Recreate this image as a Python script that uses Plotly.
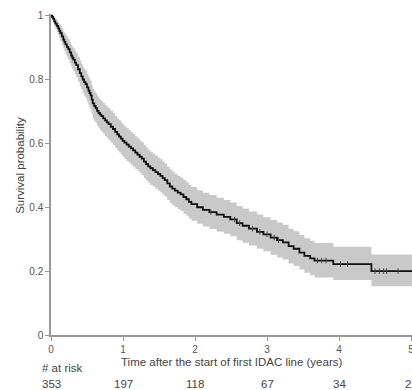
import plotly.graph_objects as go

# Kaplan-Meier estimate (years, survival probability)
time_years = [0, 0.015, 0.03, 0.045, 0.06, 0.08, 0.10, 0.115, 0.13, 0.15, 0.17, 0.185, 0.20,
              0.22, 0.24, 0.26, 0.28, 0.295, 0.31, 0.33, 0.35, 0.375, 0.40, 0.42, 0.44, 0.46,
              0.48, 0.50, 0.52, 0.535, 0.55, 0.565, 0.58, 0.60, 0.62, 0.64, 0.66, 0.68, 0.70,
              0.725, 0.75, 0.775, 0.80, 0.83, 0.86, 0.89, 0.92, 0.945, 0.97, 0.995, 1.02, 1.05,
              1.08, 1.11, 1.14, 1.17, 1.20, 1.23, 1.26, 1.29, 1.32, 1.35, 1.38, 1.415, 1.45,
              1.485, 1.52, 1.55, 1.58, 1.615, 1.65, 1.685, 1.72, 1.76, 1.80, 1.84, 1.88, 1.915,
              1.95, 2.03, 2.11, 2.20, 2.30, 2.40, 2.49, 2.58, 2.66, 2.75, 2.86, 2.95, 3.05, 3.14,
              3.22, 3.30, 3.37, 3.45, 3.52, 3.60, 3.66, 3.92, 4.45, 5.05]
survival = [1.0, 0.995, 0.99, 0.982, 0.975, 0.968, 0.96, 0.952, 0.945, 0.935, 0.925, 0.918,
            0.91, 0.902, 0.895, 0.885, 0.875, 0.868, 0.862, 0.853, 0.845, 0.832, 0.82, 0.81,
            0.80, 0.792, 0.785, 0.775, 0.765, 0.757, 0.75, 0.737, 0.725, 0.717, 0.71, 0.702,
            0.695, 0.69, 0.685, 0.678, 0.672, 0.666, 0.66, 0.652, 0.645, 0.636, 0.628, 0.621,
            0.615, 0.608, 0.602, 0.596, 0.59, 0.584, 0.578, 0.571, 0.565, 0.558, 0.552, 0.543,
            0.535, 0.528, 0.522, 0.516, 0.51, 0.504, 0.498, 0.491, 0.485, 0.475, 0.465, 0.458,
            0.452, 0.446, 0.44, 0.432, 0.425, 0.417, 0.41, 0.40, 0.392, 0.385, 0.377, 0.37,
            0.362, 0.35, 0.342, 0.333, 0.323, 0.315, 0.305, 0.297, 0.29, 0.278, 0.27, 0.258,
            0.248, 0.24, 0.233, 0.222, 0.20, 0.20]
ci_lower = [1.0, 0.989, 0.978, 0.968, 0.958, 0.948, 0.938, 0.929, 0.92, 0.908, 0.897, 0.889,
            0.88, 0.871, 0.863, 0.851, 0.84, 0.833, 0.826, 0.816, 0.807, 0.793, 0.78, 0.769,
            0.758, 0.75, 0.742, 0.731, 0.72, 0.712, 0.705, 0.691, 0.678, 0.67, 0.663, 0.655,
            0.647, 0.641, 0.636, 0.629, 0.622, 0.616, 0.61, 0.602, 0.595, 0.586, 0.578, 0.571,
            0.565, 0.558, 0.551, 0.545, 0.539, 0.533, 0.527, 0.52, 0.514, 0.507, 0.50, 0.491,
            0.483, 0.476, 0.47, 0.464, 0.458, 0.452, 0.446, 0.439, 0.433, 0.423, 0.413, 0.406,
            0.40, 0.394, 0.388, 0.38, 0.373, 0.365, 0.358, 0.348, 0.34, 0.332, 0.324, 0.317,
            0.309, 0.297, 0.289, 0.28, 0.27, 0.262, 0.251, 0.243, 0.236, 0.224, 0.216, 0.205,
            0.195, 0.187, 0.18, 0.172, 0.153, 0.153]
ci_upper = [1.0, 1.0, 1.0, 0.995, 0.99, 0.985, 0.98, 0.974, 0.968, 0.96, 0.952, 0.946, 0.94,
            0.933, 0.927, 0.917, 0.908, 0.902, 0.897, 0.89, 0.882, 0.871, 0.86, 0.85, 0.84,
            0.833, 0.827, 0.817, 0.808, 0.801, 0.795, 0.782, 0.77, 0.763, 0.757, 0.749, 0.742,
            0.737, 0.733, 0.726, 0.72, 0.714, 0.709, 0.702, 0.695, 0.686, 0.678, 0.672, 0.666,
            0.659, 0.653, 0.647, 0.641, 0.635, 0.629, 0.622, 0.616, 0.609, 0.603, 0.595, 0.587,
            0.58, 0.574, 0.568, 0.562, 0.556, 0.55, 0.543, 0.537, 0.527, 0.518, 0.511, 0.505,
            0.498, 0.492, 0.485, 0.478, 0.47, 0.463, 0.453, 0.445, 0.438, 0.43, 0.423, 0.415,
            0.404, 0.396, 0.387, 0.377, 0.369, 0.36, 0.352, 0.345, 0.333, 0.325, 0.313, 0.303,
            0.295, 0.288, 0.276, 0.252, 0.252]

# censoring marks (years)
censor_times = [2.22, 2.55, 2.62, 2.80, 2.90, 3.00, 3.10, 3.16, 3.70, 3.76, 3.82, 4.02, 4.12,
                4.50, 4.56, 4.62, 4.66, 4.82]

# number at risk
risk_times = [0, 1, 2, 3, 4, 5]
risk_counts = ["353", "197", "118", "67", "34", "21"]

x_ticks = [0, 1, 2, 3, 4, 5]
y_ticks = [0, 0.2, 0.4, 0.6, 0.8, 1]
y_ticklabels = ["0", "0.2", "0.4", "0.6", "0.8", "1"]


def step_value(t):
    v = survival[0]
    for ti, si in zip(time_years, survival):
        if ti <= t:
            v = si
    return v


censor_y = [step_value(t) for t in censor_times]

fig = go.Figure()
fig.add_trace(go.Scatter(x=time_years, y=ci_lower, mode="lines", line=dict(width=0, shape="hv"),
                         hoverinfo="skip", showlegend=False))
fig.add_trace(go.Scatter(x=time_years, y=ci_upper, mode="lines", line=dict(width=0, shape="hv"),
                         fill="tonexty", fillcolor="#c9c9c9", hoverinfo="skip", showlegend=False))
fig.add_trace(go.Scatter(x=time_years, y=survival, mode="lines",
                         line=dict(color="#111111", width=1.8, shape="hv"), showlegend=False))
fig.add_trace(go.Scatter(x=censor_times, y=censor_y, mode="markers",
                         marker=dict(symbol="line-ns", size=4, line=dict(width=1, color="#444444")),
                         showlegend=False))

font_family = "Liberation Sans, Arial, sans-serif"
txt = dict(size=11.5, color="#444444")
ann = []
ann.append(dict(x=-0.0859, y=0.53, xref="paper", yref="paper", text="Survival probability",
                textangle=-90, showarrow=False, xanchor="center", yanchor="middle", font=txt))
ann.append(dict(x=2.5, y=-0.0842, xref="x", yref="paper",
                text="Time after the start of first IDAC line (years)",
                showarrow=False, xanchor="center", yanchor="middle", font=txt))
ann.append(dict(x=-0.0305, y=-0.103, xref="paper", yref="paper", text="# at risk",
                xanchor="left", yanchor="middle", showarrow=False, font=txt))
for t, c in zip(risk_times, risk_counts):
    ann.append(dict(x=t, y=-0.153, xref="x", yref="paper", text=c, showarrow=False,
                    xanchor="center", yanchor="middle", font=txt))

fig.update_layout(
    width=412, height=390,
    margin=dict(l=51, r=0, t=14, b=55),
    paper_bgcolor="white", plot_bgcolor="white",
    font=dict(family=font_family, size=10, color="#444444"),
    annotations=ann,
    xaxis=dict(range=[0, 5.0139], tickvals=x_ticks, ticks="outside", ticklen=4, tickcolor="#999999",
               showline=True, linecolor="#999999", linewidth=1.5, showgrid=False, zeroline=False,
               tickfont=dict(size=10, color="#555555"), automargin=False,
               ticklabeloverflow="allow"),
    yaxis=dict(range=[0, 1.005], tickvals=y_ticks, ticktext=y_ticklabels, ticks="outside", ticklen=4,
               tickcolor="#999999", showline=True, linecolor="#999999", linewidth=1.5,
               showgrid=False, zeroline=False, tickfont=dict(size=10, color="#555555"),
               automargin=False),
)

# remove the default page margin so the figure sits at the window's top-left corner
fig.write_html("out.html", config={"displayModeBar": False},
               post_script="document.body.style.margin='0';document.body.style.overflow='hidden';")
